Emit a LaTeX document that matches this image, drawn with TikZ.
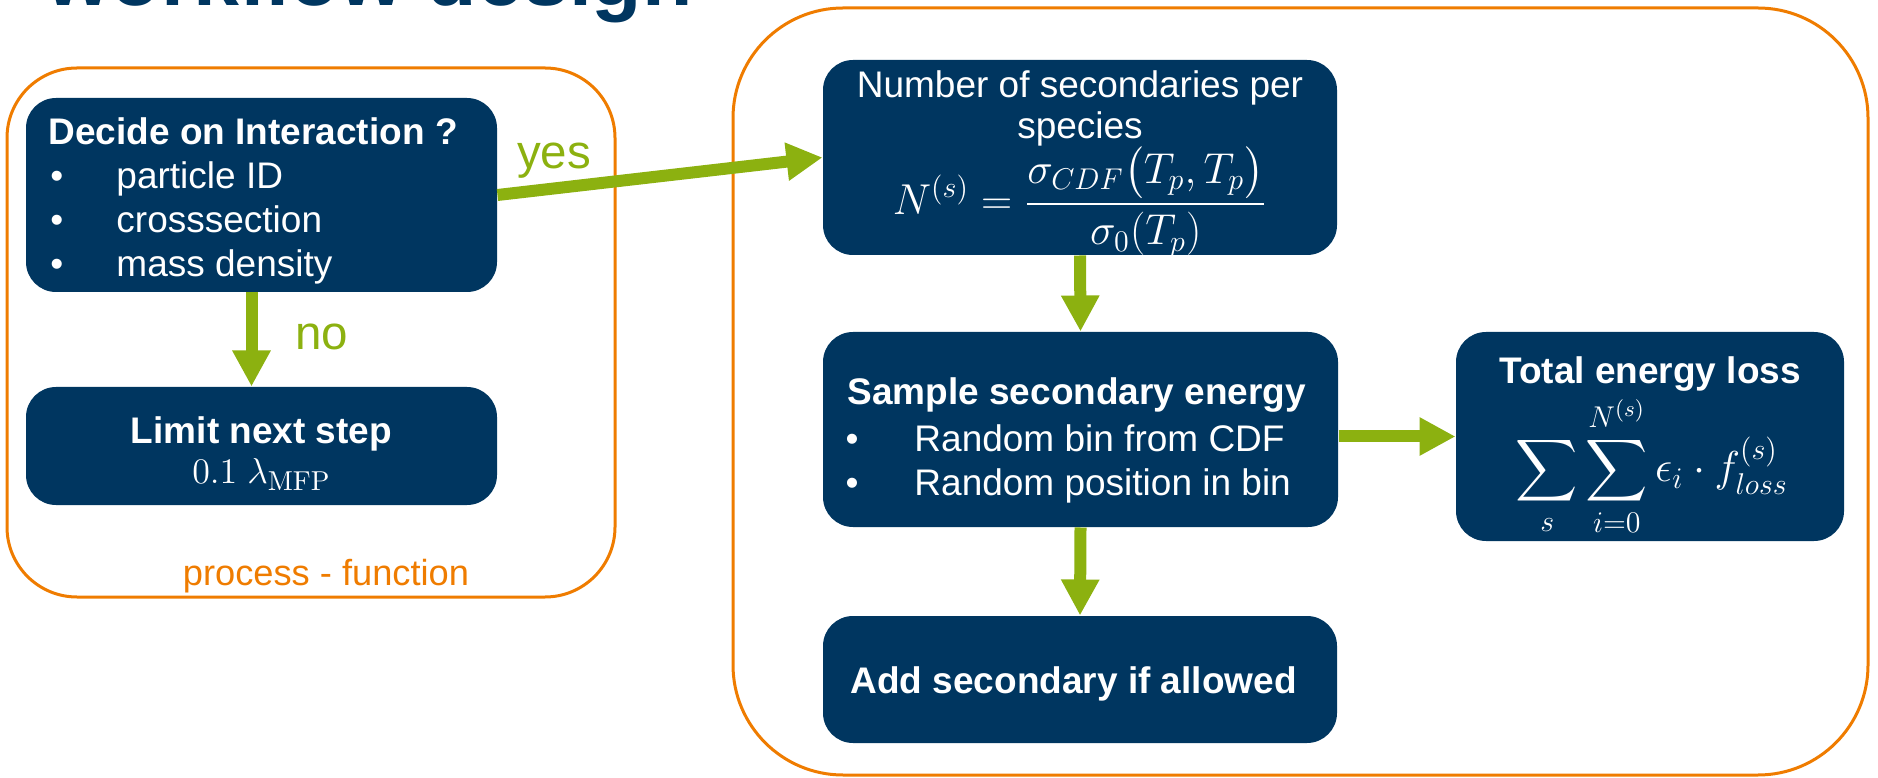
\documentclass[tikz,border=0pt]{standalone}
\usepackage{exscale}
\usepackage[no-math]{fontspec}
\setmainfont{Liberation Sans}
\usetikzlibrary{arrows.meta,fit}
\definecolor{navy}{RGB}{0,54,96}
\definecolor{leaf}{RGB}{140,177,16}
\definecolor{amber}{RGB}{239,124,0}
\newcommand\bodyfont{\fontsize{14.8}{17.8}\selectfont}
\newcommand\bodybold{\fontsize{14.8}{17.8}\bfseries\selectfont}
\begin{document}
\begin{tikzpicture}[x=0.4pt,y=-0.4pt,
  frame/.style={draw=amber,line width=1.2pt,inner sep=0pt,rounded corners=#1},
  card/.style={fill=navy,inner sep=0pt,rounded corners=12pt},
  txt/.style={text=white,inner sep=0pt,font=\bodyfont},
  flow/.style={draw=leaf,line width=4.8pt,-{Triangle[length=14.4pt,width=14.4pt]}},
  tag/.style={text=leaf,inner sep=0pt,font=\fontsize{19}{22}\selectfont}]

\useasboundingbox (0,0) rectangle (1878,778);
\clip (0,0) rectangle (1878,778);

% page heading, cut by the top edge
\node[anchor=base west,inner sep=0pt,text=navy,font=\fontsize{33}{36}\bfseries\selectfont] (heading) at (46,6) {workflow design};

% orange containers
\node[frame=28pt,fit={(7,68) (615,597)}] (procbox) {};
\node[frame=44pt,fit={(733,8) (1868,775)}] (kernelbox) {};

% process boxes
\node[card,fit={(26,98) (497,292)}] (decide) {};
\node[card,fit={(26,387) (497,505)}] (limit) {};
\node[card,fit={(823,60) (1337,255)}] (number) {};
\node[card,fit={(823,332) (1338,527)}] (sample) {};
\node[card,fit={(823,616) (1337,743)}] (add) {};
\node[card,fit={(1456,332) (1844,541)}] (total) {};

% decide
\node[txt,anchor=base west,font=\bodybold] (decideT) at (48,145) {Decide on Interaction ?};
\node[txt,anchor=base west] (decideA) at (50,189) {\makebox[26.4pt][l]{\textbullet}particle ID};
\node[txt,anchor=base west] (decideB) at (50,233) {\makebox[26.4pt][l]{\textbullet}crosssection};
\node[txt,anchor=base west] (decideC) at (50,277) {\makebox[26.4pt][l]{\textbullet}mass density};

% limit
\node[txt,anchor=base,font=\bodybold] (limitT) at (261.5,444) {Limit next step};
\node[txt,anchor=base,font=\fontsize{15}{18}\selectfont] (limitF) at (261.5,484) {$0.1\;\lambda_{\mathrm{MFP}}$};

% number of secondaries
\node[txt,anchor=base] (numberT) at (1080,98) {Number of secondaries per};
\node[txt,anchor=base] (numberU) at (1080,139) {species};
\node[txt,anchor=base,font=\fontsize{17}{20}\selectfont] (numberF) at (1080,215)
  {$\displaystyle N^{(s)}=\frac{\sigma_{CDF}\bigl(T_p,T_p\bigr)}{\sigma_0(T_p)}$};

% sample
\node[txt,anchor=base west,font=\bodybold] (sampleT) at (847,405) {Sample secondary energy};
\node[txt,anchor=base west] (sampleA) at (845,451) {\makebox[27.6pt][l]{\textbullet}Random bin from CDF};
\node[txt,anchor=base west] (sampleB) at (845,495) {\makebox[27.6pt][l]{\textbullet}Random position in bin};

% add
\node[txt,anchor=base west,font=\bodybold] (addT) at (850,693) {Add secondary if allowed};

% total
\node[txt,anchor=base,font=\bodybold] (totalT) at (1650,384) {Total energy loss};
\node[txt,font=\fontsize{18}{22}\selectfont] (totalF) at (1652,466)
  {$\displaystyle\sum_s\sum_{i=0}^{N^{(s)}}\epsilon_i\cdot f_{loss}^{(s)}$};

% connectors
\draw[flow] (decide.east) -- (number.west);
\draw[flow] ([xshift=-4pt]decide.south) -- ([xshift=-4pt]limit.north);
\draw[flow] (number.south) -- (sample.north);
\draw[flow] (sample.south) -- (add.north);
\draw[flow] (sample.east |- total.west) -- (total.west);

\node[tag] (yesL) at (554,161) {yes};
\node[tag] (noL) at (322,337) {no};

\node[anchor=base,inner sep=0pt,text=amber,font=\fontsize{14.5}{17}\selectfont] (procL) at (326,585) {process - function};
\end{tikzpicture}
\end{document}
